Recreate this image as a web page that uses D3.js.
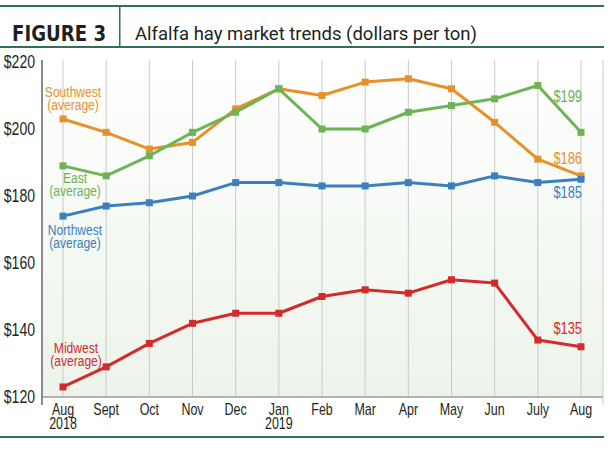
<!DOCTYPE html>
<html>
<head>
<meta charset="utf-8">
<script src="https://cdn.jsdelivr.net/npm/d3@7"></script>
<style>
  html, body { margin: 0; padding: 0; background: #fff; }
  svg { display: block; }
  .cond { font-family: "Liberation Sans", Arial, sans-serif; }
</style>
</head>
<body>
<div id="chart"></div>
<script>
// Alfalfa hay market trends, monthly averages
const months = ['Aug', 'Sept', 'Oct', 'Nov', 'Dec', 'Jan', 'Feb', 'Mar', 'Apr', 'May', 'Jun', 'July', 'Aug'];
const years = ['2018', '', '', '', '', '2019', '', '', '', '', '', '', ''];
const southwest = [203, 199, 194, 196, 206, 212, 210, 214, 215, 212, 202, 191, 186];
const east = [189, 186, 192, 199, 205, 212, 200, 200, 205, 207, 209, 213, 199];
const northwest = [174, 177, 178, 180, 184, 184, 183, 183, 184, 183, 186, 184, 185];
const midwest = [123, 129, 136, 142, 145, 145, 150, 152, 151, 155, 154, 137, 135];
const yTicks = [120, 140, 160, 180, 200, 220];

const series = [
  { name: 'Southwest', vals: southwest, color: '#e8902a' },
  { name: 'East', vals: east, color: '#6cb456' },
  { name: 'Northwest', vals: northwest, color: '#3b7fbe' },
  { name: 'Midwest', vals: midwest, color: '#d42a2c' }
];

const W = 610, H = 449;
const SX = 0.78; // horizontal squeeze to fake a condensed face
const svg = d3.select('#chart').append('svg').attr('width', W).attr('height', H);

// narrow text helper
function ctext(g, x, y, s, size, color, anchor) {
  return g.append('text')
    .attr('transform', `translate(${x},${y}) scale(${SX},1)`)
    .attr('text-anchor', anchor || 'middle')
    .attr('font-size', size).attr('fill', color)
    .text(s);
}

// gradient for plot background
const grad = svg.append('defs').append('linearGradient')
  .attr('id', 'bg').attr('x1', 0).attr('x2', 0).attr('y1', 0).attr('y2', 1);
grad.append('stop').attr('offset', '0%').attr('stop-color', '#ffffff');
grad.append('stop').attr('offset', '100%').attr('stop-color', '#ecf4ea');

// header
const teal = '#2f6f5c';
svg.append('rect').attr('x', 0).attr('y', 5).attr('width', 604).attr('height', 2).attr('fill', teal);
svg.append('rect').attr('x', 0).attr('y', 46).attr('width', 604).attr('height', 2).attr('fill', teal);
svg.append('rect').attr('x', 119).attr('y', 6).attr('width', 1.5).attr('height', 41).attr('fill', teal);
svg.append('text').attr('x', 12).attr('y', 41)
  .attr('font-family', '"DejaVu Sans", sans-serif').attr('font-weight', 'bold')
  .attr('font-size', 22).attr('fill', '#231f20')
  .attr('textLength', 94).attr('lengthAdjust', 'spacingAndGlyphs')
  .text('FIGURE 3');
svg.append('text').attr('x', 135).attr('y', 40)
  .attr('font-family', 'Roboto, sans-serif')
  .attr('font-size', 19).attr('fill', '#231f20')
  .attr('textLength', 342).attr('lengthAdjust', 'spacingAndGlyphs')
  .text('Alfalfa hay market trends (dollars per ton)');

// scales
const x = d3.scalePoint().domain(d3.range(months.length)).range([63, 581]);
const y = d3.scaleLinear().domain([120, 220]).range([397, 62]);
const pLeft = 42, pRight = 603, pTop = 60, pBottom = 397;

svg.append('rect').attr('x', pLeft).attr('y', pTop).attr('width', pRight - pLeft).attr('height', pBottom - pTop)
  .attr('fill', 'url(#bg)');

// vertical grid
svg.append('g').selectAll('line').data(d3.range(months.length)).join('line')
  .attr('x1', d => x(d)).attr('x2', d => x(d))
  .attr('y1', pTop).attr('y2', pBottom)
  .attr('stroke', '#c9cbc9').attr('stroke-width', 1);
svg.append('line').attr('x1', pRight).attr('x2', pRight).attr('y1', pTop).attr('y2', 405)
  .attr('stroke', '#c9cbc9').attr('stroke-width', 1);

// axes
svg.append('line').attr('x1', pLeft).attr('x2', pRight).attr('y1', pBottom).attr('y2', pBottom)
  .attr('stroke', '#9a9c9a').attr('stroke-width', 1.5);
svg.append('line').attr('x1', pLeft).attr('x2', pLeft).attr('y1', pTop).attr('y2', 405)
  .attr('stroke', '#8a8c8a').attr('stroke-width', 2);

const yAxis = svg.append('g').attr('class', 'cond');
yTicks.forEach(v => ctext(yAxis, 35, y(v) + 6, '$' + v, 18, '#231f20', 'end'));

const xAxis = svg.append('g').attr('class', 'cond');
months.forEach((m, i) => ctext(xAxis, x(i), 415, m, 16, '#231f20'));
years.forEach((yr, i) => { if (yr) ctext(xAxis, x(i), 429, yr, 16, '#231f20'); });

// bottom rule
svg.append('rect').attr('x', 0).attr('y', 436).attr('width', 604).attr('height', 2).attr('fill', teal);

// lines
const line = d3.line().x((d, i) => x(i)).y(d => y(d));
const lg = svg.append('g');
series.forEach(s => {
  lg.append('path').datum(s.vals)
    .attr('fill', 'none').attr('stroke', s.color).attr('stroke-width', 3)
    .attr('stroke-linejoin', 'round').attr('d', line);
  lg.append('g').selectAll('rect').data(s.vals).join('rect')
    .attr('x', (d, i) => x(i) - 3.5).attr('y', d => y(d) - 3.5)
    .attr('width', 7).attr('height', 7).attr('fill', s.color);
});

// series labels
const labels = [
  { t: ['Southwest', '(average)'], c: '#e8902a', x: 73, y: 97 },
  { t: ['East', '(average)'], c: '#6cb456', x: 75, y: 183 },
  { t: ['Northwest', '(average)'], c: '#3b7fbe', x: 75, y: 235 },
  { t: ['Midwest', '(average)'], c: '#d42a2c', x: 76, y: 353 }
];
const lab = svg.append('g').attr('class', 'cond');
labels.forEach(l => {
  l.t.forEach((s, i) => ctext(lab, l.x, l.y + i * 13, s, 15.5, l.c));
});
const endLabels = [
  { v: 199, c: '#6cb456', yy: 102 },
  { v: 186, c: '#e8902a', yy: 164 },
  { v: 185, c: '#3b7fbe', yy: 198 },
  { v: 135, c: '#d42a2c', yy: 334 }
];
endLabels.forEach(d => ctext(lab, 582, d.yy, '$' + d.v, 16.5, d.c, 'end'));
</script>
</body>
</html>
